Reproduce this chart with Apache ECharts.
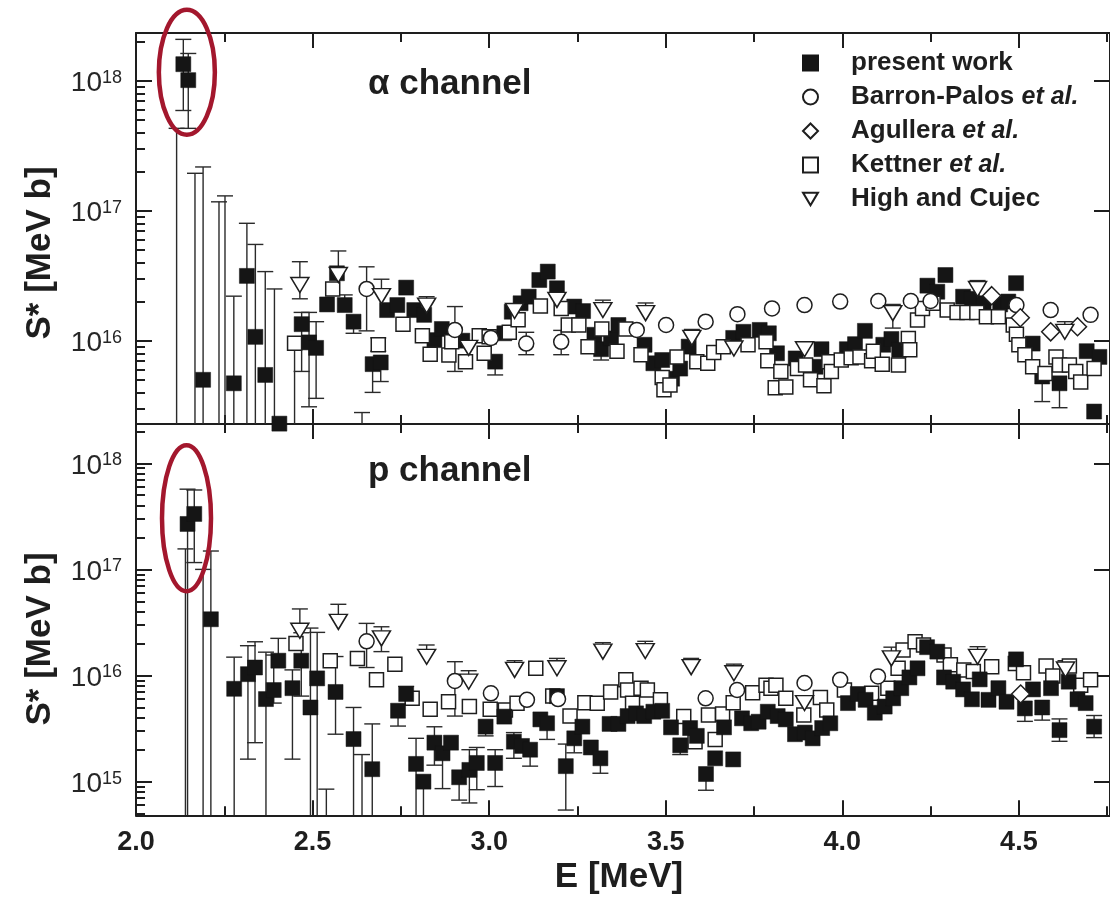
<!DOCTYPE html>
<html>
<head>
<meta charset="utf-8">
<script src="https://cdn.jsdelivr.net/npm/echarts@6/dist/echarts.min.js"></script>
<style>
  html, body { margin: 0; padding: 0; background: #fff; }
  #chart { width: 1110px; height: 898px; }
</style>
</head>
<body>
<div id="chart"></div>
<script>
// S* factor of 12C+12C fusion, alpha and proton channels, versus centre-of-mass energy.
// Rows: [E (MeV), S* (MeV b), lower error end, upper error end]
// S* = null: point lies below the plotted range (only its upper error bar shows)
// lower = 0: the error bar runs below the plotted range

const SERIES_NAMES = ['present work', 'Barron-Palos et al.', 'Agullera et al.', 'Kettner et al.', 'High and Cujec'];

// ---------- alpha channel ----------
const ALPHA_PRESENT = [
  [2.115, null, null, 4.3e17], [2.134, 1.34e18, 5.9e17, 2.08e18], [2.148, 1.01e18, 4.3e17, 1.62e18],
  [2.167, null, null, 1.94e17], [2.190, 5.0e15, 0, 2.17e17], [2.235, null, null, 1.17e17],
  [2.252, null, null, 1.30e17], [2.277, 4.7e15, 0, 2.2e16], [2.314, 3.15e16, 0, 8.0e16],
  [2.338, 1.07e16, 0, 5.5e16], [2.366, 5.45e15, 0, 3.4e16], [2.392, null, null, 2.5e16],
  [2.406, 2.3e15], [2.469, 1.34e16, 5.8e15, 1.65e16], [2.490, 9.7e15, 3.1e15, 1.65e16],
  [2.510, 8.8e15, 3.6e15, 1.40e16], [2.541, 1.90e16], [2.569, 3.30e16],
  [2.591, 1.88e16, null, 2.25e16], [2.616, 1.40e16, 1.14e16], [2.640, null, null, 2.8e15],
  [2.670, 6.6e15, 4.0e15], [2.693, 6.8e15, 4.85e15], [2.711, 1.72e16], [2.740, 1.88e16],
  [2.765, 2.56e16], [2.788, 1.72e16], [2.816, 1.58e16], [2.845, 1.01e16], [2.866, 1.23e16],
  [2.924, 1.00e16], [3.017, 6.9e15, 5.45e15], [3.043, 1.14e16], [3.064, 1.67e16],
  [3.089, 1.94e16], [3.112, 2.18e16], [3.142, 2.93e16], [3.166, 3.40e16], [3.192, 2.53e16],
  [3.241, 1.83e16], [3.266, 1.69e16], [3.298, 1.11e16], [3.317, 8.6e15, 7.1e15],
  [3.345, 1.04e16], [3.366, 1.32e16], [3.440, 9.3e15], [3.465, 6.7e15], [3.490, 7.1e15],
  [3.518, 5.1e15], [3.541, 6.1e15], [3.565, 9.0e15], [3.691, 1.05e16], [3.720, 1.17e16],
  [3.766, 1.21e16], [3.792, 1.14e16], [3.815, 8.0e15], [3.868, 7.3e15], [3.924, 6.3e15],
  [3.941, 8.6e15], [4.013, 8.6e15], [4.036, 9.4e15], [4.064, 1.19e16], [4.116, 9.3e15],
  [4.139, 1.03e16], [4.161, 8.5e15], [4.241, 2.65e16], [4.269, 2.38e16], [4.292, 3.20e16],
  [4.342, 2.18e16], [4.367, 2.10e16], [4.400, 1.94e16], [4.447, 1.90e16], [4.470, 2.00e16],
  [4.492, 2.77e16], [4.539, 9.5e15], [4.566, 5.3e15, 3.4e15], [4.615, 4.7e15, 3.05e15],
  [4.692, 8.3e15], [4.713, 2.85e15], [4.728, 7.5e15]
];
const ALPHA_BARRON = [
  [2.653, 2.5e16, 1.19e16, 3.7e16], [2.903, 1.21e16, 5.8e15, 1.83e16], [3.005, 1.05e16],
  [3.105, 9.5e15, 7.8e15, 1.16e16], [3.204, 9.8e15, 7.8e15, 1.2e16], [3.418, 1.21e16],
  [3.501, 1.32e16], [3.613, 1.40e16], [3.703, 1.60e16], [3.801, 1.77e16], [3.893, 1.88e16],
  [3.994, 2.00e16], [4.102, 2.02e16], [4.194, 2.02e16], [4.250, 2.02e16], [4.493, 1.88e16],
  [4.590, 1.72e16], [4.703, 1.58e16]
];
const ALPHA_AGULLERA = [
  [4.423, 2.22e16], [4.504, 1.50e16], [4.590, 1.17e16], [4.666, 1.28e16]
];
const ALPHA_KETTNER = [
  [2.449, 9.55e15, 0], [2.557, 2.5e16], [2.686, 9.3e15, 8.3e15, 1.05e16], [2.756, 1.34e16],
  [2.811, 1.09e16], [2.833, 7.85e15], [2.886, 7.76e15], [2.894, 9.8e15], [2.933, 6.9e15],
  [2.972, 1.09e16], [2.986, 8.0e15], [3.000, 1.07e16], [3.057, 1.16e16], [3.082, 1.45e16],
  [3.145, 1.85e16], [3.204, 1.77e16], [3.224, 1.32e16], [3.254, 1.32e16], [3.280, 9.0e15],
  [3.319, 1.23e16], [3.362, 8.3e15], [3.387, 1.23e16], [3.430, 7.8e15], [3.490, 5.2e15],
  [3.495, 4.2e15], [3.512, 4.56e15], [3.532, 7.5e15], [3.588, 6.9e15], [3.619, 6.7e15],
  [3.636, 8.1e15], [3.663, 9.0e15], [3.733, 9.3e15], [3.784, 9.8e15], [3.789, 7.0e15],
  [3.810, 4.35e15], [3.826, 5.8e15], [3.840, 4.4e15], [3.873, 6.1e15], [3.896, 6.5e15],
  [3.910, 5.0e15], [3.948, 4.5e15], [3.962, 6.9e15], [3.969, 5.8e15], [3.997, 7.1e15],
  [4.025, 7.4e15], [4.050, 7.5e15], [4.083, 7.0e15], [4.088, 8.3e15], [4.113, 6.6e15],
  [4.159, 6.5e15], [4.187, 1.04e16], [4.191, 8.5e15], [4.213, 1.44e16], [4.227, 1.77e16],
  [4.257, 1.94e16], [4.297, 1.72e16], [4.325, 1.65e16], [4.353, 1.65e16], [4.381, 1.65e16],
  [4.408, 1.53e16], [4.442, 1.53e16], [4.484, 1.32e16], [4.493, 1.12e16], [4.500, 9.3e15],
  [4.517, 7.8e15], [4.539, 6.3e15], [4.574, 5.6e15], [4.605, 7.5e15], [4.615, 6.5e15],
  [4.643, 6.5e15], [4.661, 5.8e15], [4.675, 4.8e15], [4.713, 6.1e15]
];
const ALPHA_HIGH = [
  [2.464, 2.68e16, 2.1e16, 4.05e16], [2.573, 3.2e16, null, 4.9e16], [2.695, 2.2e16, null, 2.97e16],
  [2.823, 1.86e16, null, 2.18e16], [2.942, 8.8e15], [3.072, 1.69e16, null, 1.9e16],
  [3.192, 2.06e16, null, 2.3e16], [3.322, 1.72e16, null, 2.05e16], [3.443, 1.63e16, null, 1.95e16],
  [3.574, 1.05e16, null, 1.22e16], [3.693, 8.7e15], [3.893, 8.6e15, null, 9.8e15],
  [4.143, 1.63e16, 1.25e16, 1.9e16], [4.383, 2.5e16, null, 2.9e16], [4.630, 1.17e16, null, 1.4e16]
];

// ---------- p channel ----------
const P_PRESENT = [
  [2.140, null, null, 1.56e17], [2.146, 2.68e17, 0, 5.7e17], [2.165, 3.33e17, 1.16e17, 5.6e17],
  [2.190, null, null, 1.0e17], [2.212, 3.39e16, 0, 1.49e17], [2.278, 7.5e15, 0, 1.49e16],
  [2.317, 1.03e16, 1.63e15, 1.91e16], [2.337, 1.19e16, 2.33e15, 2.08e16], [2.368, 6.0e15, 0, 1.66e16],
  [2.390, 7.3e15, 5.5e15, 1.56e16], [2.403, 1.38e16, null, 2.24e16], [2.443, 7.6e15, 1.63e15, 1.13e16],
  [2.468, 1.38e16, 6.4e15, 2.53e16], [2.494, 5.0e15, 0, 2.8e16], [2.513, 9.4e15, 0, 2.55e16],
  [2.539, null, null, 8.5e14], [2.565, 7.0e15, 2.8e15, 1.51e16], [2.616, 2.52e15, 0, 5.0e15],
  [2.640, null, null, 1.8e15], [2.669, 1.31e15, 0, 3.5e15], [2.742, 4.66e15, 3.34e15],
  [2.765, 6.7e15, null, 7.9e15], [2.793, 1.47e15, 0, 2.56e15], [2.814, 1.0e15, 0],
  [2.845, 2.33e15, 1.43e15, 3.29e15], [2.868, 1.85e15, 8.6e14], [2.892, 2.33e15],
  [2.915, 1.1e15, 6.7e14], [2.944, 1.29e15, 6.3e14, 2.0e15], [2.965, 1.5e15, 8.4e14, 2.1e15],
  [2.990, 3.3e15, 2.7e15], [3.017, 1.5e15, 9.0e14, 2.0e15], [3.043, 4.1e15],
  [3.070, 2.38e15, 1.66e15, 2.9e15], [3.093, 2.17e15], [3.116, 2.0e15, 1.4e15], [3.145, 3.86e15],
  [3.164, 3.55e15, 2.5e15], [3.192, 6.4e15], [3.217, 1.4e15, 5.4e14, 2.26e15],
  [3.241, 2.56e15, 1.87e15], [3.264, 3.3e15], [3.288, 2.1e15], [3.315, 1.66e15, 1.2e15],
  [3.341, 3.5e15], [3.366, 3.5e15], [3.392, 4.15e15], [3.416, 4.4e15], [3.439, 4.15e15],
  [3.465, 4.56e15], [3.490, 4.65e15], [3.515, 3.25e15], [3.541, 2.2e15, 1.8e15], [3.569, 3.2e15],
  [3.588, 2.7e15], [3.614, 1.18e15, 8.3e14], [3.640, 1.66e15], [3.665, 3.25e15], [3.691, 1.62e15],
  [3.716, 3.95e15], [3.742, 3.55e15], [3.763, 3.67e15], [3.789, 4.56e15], [3.817, 4.15e15],
  [3.840, 3.86e15], [3.866, 2.8e15], [3.894, 2.9e15], [3.916, 2.56e15], [3.943, 3.2e15],
  [3.966, 3.55e15], [4.016, 5.5e15], [4.044, 6.7e15], [4.066, 5.9e15], [4.092, 4.46e15],
  [4.120, 5.1e15], [4.144, 6.1e15], [4.167, 7.6e15], [4.190, 9.6e15], [4.213, 1.17e16],
  [4.240, 1.85e16], [4.269, 1.68e16], [4.288, 9.6e15], [4.314, 8.75e15], [4.342, 7.4e15],
  [4.367, 5.97e15], [4.389, 9.2e15], [4.414, 5.9e15], [4.442, 7.6e15], [4.465, 5.66e15],
  [4.492, 1.42e16], [4.517, 4.9e15, 3.7e15], [4.540, 7.4e15], [4.566, 5.0e15, 3.8e15],
  [4.591, 7.6e15], [4.615, 3.06e15, 2.4e15, 3.9e15], [4.641, 8.75e15], [4.666, 5.97e15],
  [4.689, 5.5e15], [4.713, 3.3e15, 2.6e15, 4.2e15]
];
const P_BARRON = [
  [2.653, 2.1e16, 1.19e16, 3.1e16], [2.903, 8.9e15, 4.15e15, 1.35e16], [3.005, 6.8e15],
  [3.107, 5.9e15], [3.195, 6.0e15], [3.613, 6.1e15], [3.702, 7.3e15], [3.893, 8.5e15],
  [3.994, 9.1e15], [4.101, 9.8e15]
];
const P_AGULLERA = [
  [4.505, 6.7e15]
];
const P_KETTNER = [
  [2.453, 2.0e16], [2.550, 1.38e16], [2.627, 1.45e16], [2.681, 9.1e15], [2.733, 1.28e16],
  [2.782, 6.1e15], [2.833, 4.8e15], [2.885, 5.66e15], [2.944, 5.1e15], [3.003, 4.8e15],
  [3.046, 4.73e15], [3.079, 5.47e15], [3.132, 1.17e16], [3.180, 6.4e15], [3.229, 4.15e15],
  [3.271, 5.55e15], [3.306, 5.47e15], [3.344, 7.0e15], [3.387, 9.1e15], [3.392, 7.3e15],
  [3.406, 5.47e15], [3.430, 7.6e15], [3.448, 7.3e15], [3.485, 5.9e15], [3.551, 4.1e15],
  [3.583, 2.38e15], [3.621, 4.25e15], [3.640, 2.5e15], [3.661, 4.34e15], [3.691, 5.55e15],
  [3.746, 6.9e15], [3.784, 8.1e15], [3.798, 7.6e15], [3.812, 8.1e15], [3.840, 6.1e15],
  [3.891, 4.25e15], [3.938, 6.2e15], [3.956, 4.73e15], [4.006, 7.3e15], [4.083, 6.8e15],
  [4.129, 7.6e15], [4.158, 1.17e16], [4.172, 1.74e16], [4.206, 2.08e16], [4.230, 1.94e16],
  [4.288, 1.56e16], [4.306, 1.26e16], [4.344, 1.13e16], [4.371, 1.09e16], [4.423, 1.21e16],
  [4.490, 1.30e16], [4.513, 1.06e16], [4.577, 1.23e16], [4.596, 9.9e15], [4.643, 1.23e16],
  [4.675, 8.1e15], [4.703, 9.1e15]
];
const P_HIGH = [
  [2.464, 2.64e16, null, 4.24e16], [2.573, 3.2e16, null, 4.69e16], [2.695, 2.24e16, 1.68e16, 2.88e16],
  [2.823, 1.5e16, null, 1.94e16], [2.942, 8.75e15, null, 1.11e16], [3.072, 1.13e16, null, 1.38e16],
  [3.192, 1.17e16, null, 1.45e16], [3.322, 1.68e16, null, 2.04e16], [3.442, 1.7e16, null, 2.1e16],
  [3.572, 1.2e16, null, 1.45e16], [3.693, 1.05e16, null, 1.28e16], [3.893, 5.5e15],
  [4.139, 1.45e16, null, 1.85e16], [4.383, 1.5e16, null, 1.87e16], [4.632, 1.14e16, null, 1.38e16]
];

// ---------- axes ----------
const X_MIN = 2.0, X_MAX = 4.758;
const X_MAJOR = [2.0, 2.5, 3.0, 3.5, 4.0, 4.5];
const X_MINOR = [2.25, 2.75, 3.25, 3.75, 4.25, 4.75];
// vertical ranges in decades (log10 of S*)
const ALPHA_RANGE = [15.359, 18.367];
const P_RANGE = [14.683, 18.37];
const ALPHA_DECADES = [16, 17, 18];
const P_DECADES = [15, 16, 17, 18];

const FONT = '"Liberation Sans", Arial, Helvetica, sans-serif';
const INK = '#1e1e1e';
const AXIS_LINE = { show: true, onZero: false, lineStyle: { color: INK, width: 2 } };

function minorDecadeTicks(range) {
  const out = [];
  for (let n = Math.floor(range[0]); n <= Math.ceil(range[1]); n++) {
    for (let k = 2; k <= 9; k++) {
      const v = n + Math.log10(k);
      if (v > range[0] && v < range[1]) out.push(v);
    }
  }
  return out;
}

function xAxesFor(g, withLabels) {
  const base = { gridIndex: g, type: 'value', min: X_MIN, max: X_MAX, splitLine: { show: false } };
  const major = { show: true, inside: true, length: 15, customValues: X_MAJOR, lineStyle: { color: INK, width: 2 } };
  const minor = { show: true, inside: true, length: 9, customValues: X_MINOR, lineStyle: { color: INK, width: 2 } };
  return [
    Object.assign({}, base, {
      position: 'bottom', axisLine: AXIS_LINE, axisTick: major,
      axisLabel: withLabels ? {
        show: true, customValues: X_MAJOR, formatter: v => Number(v).toFixed(1), margin: 14,
        color: INK, fontFamily: FONT, fontSize: 27, fontWeight: 'bold'
      } : { show: false }
    }),
    Object.assign({}, base, { position: 'bottom', axisLine: { show: false }, axisTick: minor, axisLabel: { show: false } }),
    Object.assign({}, base, { position: 'top', axisLine: AXIS_LINE, axisTick: major, axisLabel: { show: false } }),
    Object.assign({}, base, { position: 'top', axisLine: { show: false }, axisTick: minor, axisLabel: { show: false } })
  ];
}

function yAxesFor(g, range, decades) {
  const base = { gridIndex: g, type: 'value', min: range[0], max: range[1], splitLine: { show: false } };
  const major = { show: true, inside: true, length: 16, customValues: decades, lineStyle: { color: INK, width: 2 } };
  return [
    Object.assign({}, base, {
      position: 'left', axisLine: AXIS_LINE, axisTick: major,
      axisLabel: {
        show: true, customValues: decades, margin: 14, padding: [6, 0, 0, 0],
        formatter: v => '{b|10}{s|' + Math.round(v) + '}',
        rich: {
          b: { fontFamily: FONT, fontSize: 28, color: '#262626', lineHeight: 30 },
          s: { fontFamily: FONT, fontSize: 18, color: '#262626', lineHeight: 6, verticalAlign: 'top' }
        }
      }
    }),
    Object.assign({}, base, {
      position: 'left', axisLine: { show: false },
      axisTick: { show: true, inside: true, length: 9, customValues: minorDecadeTicks(range), lineStyle: { color: INK, width: 2 } },
      axisLabel: { show: false }
    }),
    Object.assign({}, base, { position: 'right', axisLine: AXIS_LINE, axisTick: major, axisLabel: { show: false } })
  ];
}

// ---------- marks ----------
const OPEN = { color: '#ffffff', borderColor: INK, borderWidth: 1.5, opacity: 1 };
const MARKS = {
  present: { symbol: 'rect', symbolSize: 15, itemStyle: { color: '#151515', borderColor: '#151515', borderWidth: 0.5, opacity: 1 } },
  barron: { symbol: 'circle', symbolSize: 15, itemStyle: OPEN },
  agullera: { symbol: 'diamond', symbolSize: 18, itemStyle: OPEN },
  kettner: { symbol: 'rect', symbolSize: 14, itemStyle: OPEN },
  high: { symbol: 'path://M0,0L20,0L10,17Z', symbolSize: [18, 15], itemStyle: OPEN }
};

function points(rows) {
  return rows.filter(r => r[1] != null).map(r => [r[0], Math.log10(r[1])]);
}

function errorRows(rows, range) {
  const out = [];
  rows.forEach(r => {
    const e = r[0], s = r[1], lo = r[2], hi = r[3];
    if (lo == null && hi == null && s != null) return;
    const mid = s == null ? null : Math.log10(s);
    let yLo, capLo, yHi, capHi;
    if (lo === 0 || (s == null && lo == null)) { yLo = range[0]; capLo = 0; }
    else if (lo == null) { yLo = mid; capLo = 0; }
    else { yLo = Math.log10(lo); capLo = 1; }
    if (hi == null) { yHi = mid; capHi = 0; }
    else { yHi = Math.log10(hi); capHi = 1; }
    if (yLo < range[0]) { yLo = range[0]; capLo = 0; }
    if (yHi > range[1]) { yHi = range[1]; capHi = 0; }
    out.push([e, yLo, yHi, capLo, capHi]);
  });
  return out;
}

function errorSeries(rows, g, range) {
  return {
    type: 'custom', xAxisIndex: g * 4, yAxisIndex: g * 3, z: 1, silent: true,
    data: errorRows(rows, range), encode: { x: 0, y: [1, 2] },
    renderItem(params, api) {
      const x = api.value(0);
      const a = api.coord([x, api.value(1)]);
      const b = api.coord([x, api.value(2)]);
      const w = 8;
      const style = { stroke: '#2a2a2a', lineWidth: 1.4 };
      const kids = [{ type: 'line', shape: { x1: a[0], y1: a[1], x2: b[0], y2: b[1] }, style }];
      if (api.value(3)) kids.push({ type: 'line', shape: { x1: a[0] - w, y1: a[1], x2: a[0] + w, y2: a[1] }, style });
      if (api.value(4)) kids.push({ type: 'line', shape: { x1: b[0] - w, y1: b[1], x2: b[0] + w, y2: b[1] }, style });
      return { type: 'group', children: kids };
    }
  };
}

function scatterSeries(name, rows, g, mark, z) {
  return {
    type: 'scatter', name, xAxisIndex: g * 4, yAxisIndex: g * 3, z, clip: true, silent: true,
    symbol: mark.symbol, symbolSize: mark.symbolSize, itemStyle: mark.itemStyle,
    data: points(rows)
  };
}

function panel(g, range, sets) {
  const list = [];
  sets.forEach(s => list.push(errorSeries(s[1], g, range)));
  sets.forEach(s => list.push(scatterSeries(s[0], s[1], g, s[2], s[3])));
  return list;
}

const series = [].concat(
  panel(0, ALPHA_RANGE, [
    [SERIES_NAMES[0], ALPHA_PRESENT, MARKS.present, 2],
    [SERIES_NAMES[3], ALPHA_KETTNER, MARKS.kettner, 3],
    [SERIES_NAMES[1], ALPHA_BARRON, MARKS.barron, 4],
    [SERIES_NAMES[2], ALPHA_AGULLERA, MARKS.agullera, 4],
    [SERIES_NAMES[4], ALPHA_HIGH, MARKS.high, 5]
  ]),
  panel(1, P_RANGE, [
    [SERIES_NAMES[3], P_KETTNER, MARKS.kettner, 2],
    [SERIES_NAMES[0], P_PRESENT, MARKS.present, 3],
    [SERIES_NAMES[1], P_BARRON, MARKS.barron, 4],
    [SERIES_NAMES[2], P_AGULLERA, MARKS.agullera, 4],
    [SERIES_NAMES[4], P_HIGH, MARKS.high, 5]
  ])
);

const option = {
  animation: false,
  backgroundColor: '#ffffff',
  grid: [
    { left: 136, top: 33, width: 985, height: 391 },
    { left: 136, top: 424, width: 985, height: 391.3 }
  ],
  xAxis: [].concat(xAxesFor(0, false), xAxesFor(1, true)),
  yAxis: [].concat(yAxesFor(0, ALPHA_RANGE, ALPHA_DECADES), yAxesFor(1, P_RANGE, P_DECADES)),
  legend: {
    orient: 'vertical', left: 802, top: 50, padding: 0, itemGap: 8,
    itemWidth: 15, itemHeight: 15, selectedMode: false,
    data: SERIES_NAMES,
    formatter: name => '{gap| }' + name.replace(' et al.', ' {i|et al.}'),
    textStyle: {
      fontFamily: FONT, fontSize: 26, fontWeight: 'bold', color: INK, lineHeight: 26,
      rich: {
        gap: { width: 28 },
        i: { fontFamily: FONT, fontSize: 25, fontWeight: 'bold', fontStyle: 'italic', color: INK, lineHeight: 26 }
      }
    }
  },
  series
};

const chart = echarts.init(document.getElementById('chart'), null, { renderer: 'canvas' });
chart.setOption(option);

// panel captions, axis titles and the highlighted low-energy points
const topCentre = chart.convertToPixel({ xAxisIndex: 0, yAxisIndex: 0 }, [2.144, 18.065]);
const botCentre = chart.convertToPixel({ xAxisIndex: 4, yAxisIndex: 3 }, [2.143, 17.482]);
const RING = { fill: 'none', stroke: '#a3172d', lineWidth: 4.5 };
const titleFont = 'bold 35px ' + FONT;

chart.setOption({
  graphic: [
    { type: 'text', x: 368, y: 84, z: 50, style: { text: 'α channel', font: titleFont, fill: INK, align: 'left', verticalAlign: 'middle' } },
    { type: 'text', x: 368, y: 471, z: 50, style: { text: 'p channel', font: titleFont, fill: INK, align: 'left', verticalAlign: 'middle' } },
    { type: 'text', x: 619, y: 877, z: 50, style: { text: 'E [MeV]', font: titleFont, fill: INK, align: 'center', verticalAlign: 'middle' } },
    { type: 'text', x: 40, y: 253, rotation: Math.PI / 2, z: 50, style: { text: 'S* [MeV b]', font: titleFont, fill: INK, align: 'center', verticalAlign: 'middle' } },
    { type: 'text', x: 40, y: 639, rotation: Math.PI / 2, z: 50, style: { text: 'S* [MeV b]', font: titleFont, fill: INK, align: 'center', verticalAlign: 'middle' } },
    { type: 'ellipse', z: 100, shape: { cx: topCentre[0], cy: topCentre[1], rx: 28, ry: 62.5 }, style: RING },
    { type: 'ellipse', z: 100, shape: { cx: botCentre[0], cy: botCentre[1], rx: 24.5, ry: 73 }, style: RING }
  ]
});
</script>
</body>
</html>
